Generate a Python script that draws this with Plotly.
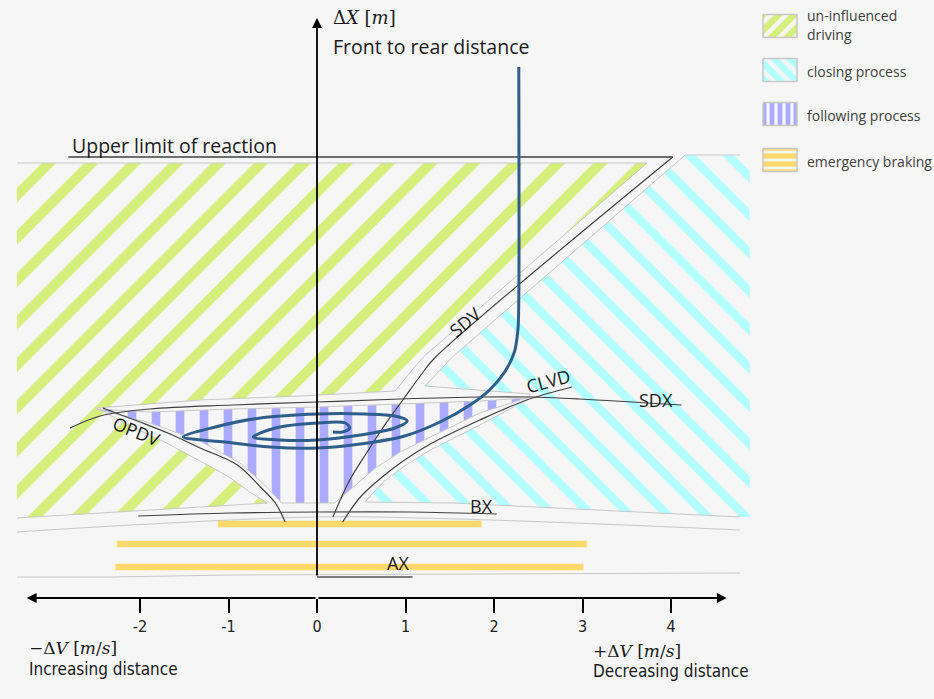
import plotly.graph_objects as go

W, H = 934, 699

# ---------------- data (x = relative speed dV [m/s], y = distance dX) ----------------
TICK_VALUES = [-2, -1, 0, 1, 2, 3, 4]
TICK_LABELS = ["-2", "-1", "0", "1", "2", "3", "4"]

# region: un-influenced driving
GREEN_X = [-3.39, 3.73, 1.20, 0.88, -0.19, -1.32, -2.49, -2.06, -1.72, -1.38, -1.01, -0.76, -0.56, -3.39]
GREEN_Y = [414, 414, 220, 186, 181, 177, 169, 149, 135, 119, 101, 85, 74, 59]

# region: closing process
CYAN_X = [4.78, 4.16, 1.53, 1.22, 2.41, 2.37, 1.84, 1.28, 0.99, 0.75, 0.54, 1.54, 4.78, 4.89, 4.89]
CYAN_Y = [422, 422, 220, 191, 183, 177, 152, 127, 111, 95, 75, 74, 60, 60, 422]

# region: following process
FOLLOW_X = [-2.49, -1.89, -0.95, 0.0, 0.94, 1.84, 2.37, 1.84, 1.28, 0.94, 0.66, 0.37, 0.20, -0.40,
            -0.59, -0.87, -1.32, -1.89, -2.49]
FOLLOW_Y = [168, 165, 168, 170, 173, 176, 179, 164, 140, 125, 109, 87, 74, 74,
            92, 114, 136, 154, 168]

# emergency braking band
EMERG_TOP_X = [-3.39, -1.89, 0.0, 1.16, 3.20, 4.78]
EMERG_TOP_Y = [45, 53, 60, 59, 53, 47]
EMERG_BOT_X = [-3.39, -2.34, -0.95, 4.78]
EMERG_BOT_Y = [0, 0, 2, 4]
EMERG_LEVELS = [53, 33, 10]
EMERG_START = [-1.12, -2.26, -2.28]
EMERG_END = [1.86, 3.05, 3.01]

# thresholds
UPPER_X = [-2.81, 4.02]
UPPER_Y = [420, 420]
SDV_X = [4.02, 1.33, 1.20, 0.97, 0.75, 0.56, 0.37, 0.18]
SDV_Y = [420, 219, 205, 177, 150, 124, 97, 60]
CLVD_X = [0.29, 0.49, 0.75, 0.99, 1.28, 1.84, 2.37, 2.88]
CLVD_Y = [55, 80, 101, 117, 133, 157, 177, 190]
SDX_X = [-2.79, -2.45, -1.89, -0.95, 0.0, 0.94, 1.84, 2.41, 2.97, 4.12]
SDX_Y = [149, 161, 168, 172, 175, 178, 180, 180, 178, 172]
OPDV_X = [-2.42, -2.00, -1.66, -1.32, -0.90, -0.64, -0.47, -0.36]
OPDV_Y = [169, 155, 143, 129, 112, 90, 74, 55]
BX_X = [-2.02, -0.98, 0.0, 1.05, 2.03]
BX_Y = [61, 64, 65, 65, 63]
AX_X = [0.0, 1.08]
AX_Y = [0, 0]

# vehicle trajectory
TRAJ_X = [2.28, 2.28, 2.27, 2.23, 2.12, 1.95, 1.73, 1.39, 0.99, 0.49, 0.0, -0.53, -1.04, -1.51,
          -1.15, -0.64, 0.0, 0.54, 0.88, 1.02, 0.88, 0.49, 0.0, -0.42, -0.72, -0.47, 0.0, 0.32,
          0.37, 0.29, 0.18]
TRAJ_Y = [510, 277, 247, 225, 205, 187, 172, 155, 141, 133, 129, 130, 135, 140,
          150, 159, 163, 163, 161, 156, 149, 142, 137, 137, 140, 149, 154, 154,
          149, 145, 145]

LEGEND_LABELS = ["un-influenced<br>driving", "closing process", "following process", "emergency braking"]

# ---------------- styling ----------------
BG = "#f6f6f6"
GREEN = "#d5ee7c"
CYAN = "#b3ffff"
LAV = "#aaaaff"
YEL = "#ffda6a"
OUT = "#c8c8c8"
DARK = "#404040"
BLUE = "#2f5d8c"
SANS = "Open Sans, Noto Sans, sans-serif"
NARROW = "Liberation Sans Narrow, DejaVu Sans Condensed, sans-serif"
SERIF = "DejaVu Serif, Liberation Serif, serif"

XR = [-317 / 88.5, (W - 317) / 88.5]
YR = [577 - H, 577]

fig = go.Figure()


def hatch(x, y, shape, size, sol, color, xa="x", ya="y", line=None):
    fig.add_trace(go.Scatter(
        x=x, y=y, fill="toself", mode="lines" if line else "none",
        line=line if line else None,
        fillcolor="rgba(0,0,0,0)",
        fillpattern=dict(shape=shape, size=size, solidity=sol, fgcolor=color,
                         bgcolor="rgba(0,0,0,0)", fillmode="replace"),
        xaxis=xa, yaxis=ya, hoverinfo="skip", showlegend=False))


def line(x, y, color, width, shape="linear", xa="x", ya="y"):
    fig.add_trace(go.Scatter(x=x, y=y, mode="lines",
                             line=dict(color=color, width=width, shape=shape),
                             xaxis=xa, yaxis=ya, hoverinfo="skip", showlegend=False))


# hatched regions
hatch(GREEN_X, GREEN_Y, "/", 30, 0.34, GREEN)
hatch(CYAN_X, CYAN_Y, "\\", 27, 0.32, CYAN)
hatch(FOLLOW_X, FOLLOW_Y, "|", 24, 0.36, LAV)

# region outlines (light grey)
line(GREEN_X, GREEN_Y, OUT, 1)
line(CYAN_X[:13], CYAN_Y[:13], OUT, 1)
line(FOLLOW_X, FOLLOW_Y, OUT, 1)
line(EMERG_TOP_X, EMERG_TOP_Y, OUT, 1, "spline")
line(EMERG_BOT_X, EMERG_BOT_Y, OUT, 1)

# emergency braking lines
for lv, s, e in zip(EMERG_LEVELS, EMERG_START, EMERG_END):
    line([s, e], [lv, lv], YEL, 6.5)

# thresholds (dark)
line(UPPER_X, UPPER_Y, DARK, 1.3)
line(SDV_X, SDV_Y, DARK, 1.2, "spline")
line(CLVD_X, CLVD_Y, DARK, 1.2, "spline")
line(SDX_X, SDX_Y, DARK, 1.2, "spline")
line(OPDV_X, OPDV_Y, DARK, 1.2, "spline")
line(BX_X, BX_Y, DARK, 1.2, "spline")
line(AX_X, AX_Y, "#555555", 1.5)

# trajectory
fig.add_trace(go.Scatter(x=TRAJ_X, y=TRAJ_Y, mode="lines",
                         line=dict(color=BLUE, width=3, shape="spline", smoothing=0.9),
                         hoverinfo="skip", showlegend=False))

# ---------------- legend (pixel overlay axes) ----------------
LEG_X0, LEG_X1 = 763, 797
LEG_CY = [26, 70, 114, 160]
LEG_H = 23
LEG_PAT = [("/", 11, 0.6, GREEN), ("\\", 11, 0.6, CYAN), ("|", 8, 0.6, LAV), ("-", 8, 0.66, YEL)]
for cy, (shp, sz, sol, col) in zip(LEG_CY, LEG_PAT):
    y0, y1 = cy - LEG_H / 2, cy + LEG_H / 2
    hatch([LEG_X0, LEG_X1, LEG_X1, LEG_X0, LEG_X0], [y0, y0, y1, y1, y0], shp, sz, sol, col,
          xa="x2", ya="y2", line=dict(color=OUT, width=1.5))

annotations = []


def P(px, py):
    return px / W, 1 - py / H


def text(s, px, py, size, family=SANS, color="#1a1a1a", anchor="left", angle=0):
    x, y = P(px, py)
    annotations.append(dict(text=s, x=x, y=y, xref="paper", yref="paper", showarrow=False,
                            xanchor=anchor, yanchor="middle", textangle=angle,
                            font=dict(size=size, family=family, color=color)))


for lab, cy in zip(LEGEND_LABELS, LEG_CY):
    if "<br>" in lab:
        a, b = lab.split("<br>")
        text(a, 805, 16, 14, color="#404040")
        text(b, 805, 35, 14, color="#404040")
    else:
        text(lab, 805, cy + 1, 14, color="#404040")

text("Δ<i>X</i> [<i>m</i>]", 331, 17, 18, SERIF)
text("Front to rear distance", 331, 46, 19.5)
text("Upper limit of reaction", 70, 146, 19.5)
text("−Δ<i>V</i> [<i>m</i>/<i>s</i>]", 27, 648, 17, SERIF)
text("Increasing distance", 27, 669, 17, NARROW)
text("+Δ<i>V</i> [<i>m</i>/<i>s</i>]", 591, 651, 17, SERIF)
text("Decreasing distance", 591, 671, 17, NARROW)
text("SDV", 465, 322, 18, anchor="center", angle=-40)
text("CLVD", 548, 381, 18, anchor="center", angle=-15)
text("SDX", 656, 400, 18, anchor="center")
text("OPDV", 136, 431, 18, anchor="center", angle=22)
text("BX", 481, 506, 18, anchor="center")
text("AX", 398, 563, 18, anchor="center")

# axes arrows
ARROW_Y = -21
annotations.append(dict(x=0, y=559, ax=0, ay=0, xref="x", yref="y", axref="x", ayref="y",
                        text="", showarrow=True, arrowhead=2, arrowsize=1.1, arrowwidth=1.8,
                        arrowcolor="black"))
annotations.append(dict(x=-3.28, y=ARROW_Y, ax=0, ay=ARROW_Y, xref="x", yref="y", axref="x", ayref="y",
                        text="", showarrow=True, arrowhead=2, arrowsize=1.1, arrowwidth=1.8,
                        arrowcolor="black"))
annotations.append(dict(x=4.63, y=ARROW_Y, ax=0, ay=ARROW_Y, xref="x", yref="y", axref="x", ayref="y",
                        text="", showarrow=True, arrowhead=2, arrowsize=1.1, arrowwidth=1.8,
                        arrowcolor="black"))

fig.update_layout(
    width=W, height=H, autosize=False,
    margin=dict(l=0, r=0, t=0, b=0),
    paper_bgcolor=BG, plot_bgcolor=BG,
    showlegend=False,
    annotations=annotations,
    xaxis=dict(range=XR, domain=[0, 1], anchor="free", position=(ARROW_Y - YR[0]) / (YR[1] - YR[0]),
               showgrid=False, zeroline=False, showline=False,
               ticks="outside", ticklen=14, tickwidth=1.8, tickcolor="black",
               tickvals=TICK_VALUES, ticktext=TICK_LABELS,
               tickfont=dict(size=16, family=NARROW, color="#222")),
    yaxis=dict(range=YR, domain=[0, 1], visible=False),
    xaxis2=dict(range=[0, W], overlaying="x", visible=False, anchor="y2"),
    yaxis2=dict(range=[H, 0], overlaying="y", visible=False, anchor="x2"),
)

fig.write_html("out.html")
